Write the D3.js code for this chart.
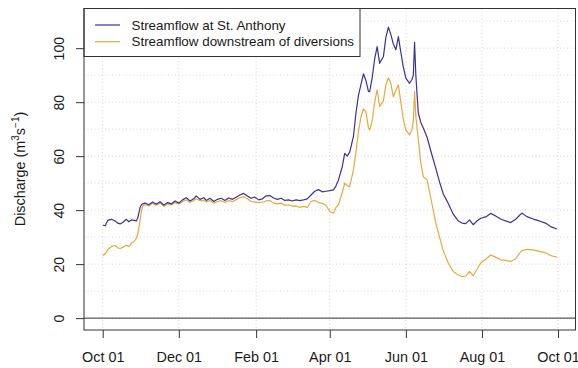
<!DOCTYPE html>
<html><head><meta charset="utf-8">
<script src="https://cdn.jsdelivr.net/npm/d3@7"></script>
<style>body{margin:0;background:#fff}svg{display:block}</style>
</head><body>
<svg id="c" width="578" height="368"></svg>
<script>
const dates = [
"2000-10-01","2000-10-03","2000-10-05","2000-10-08","2000-10-11","2000-10-13","2000-10-15","2000-10-17","2000-10-20","2000-10-22",
"2000-10-24","2000-10-26","2000-10-28","2000-10-29","2000-10-30","2000-10-31","2000-11-01","2000-11-02","2000-11-04","2000-11-07",
"2000-11-10","2000-11-13","2000-11-16","2000-11-19","2000-11-22","2000-11-25","2000-11-28","2000-12-01","2000-12-04","2000-12-07",
"2000-12-10","2000-12-13","2000-12-15","2000-12-18","2000-12-21","2000-12-23","2000-12-26","2000-12-29","2001-01-01","2001-01-04",
"2001-01-07","2001-01-10","2001-01-13","2001-01-16","2001-01-19","2001-01-22","2001-01-25","2001-01-28","2001-01-31","2001-02-03",
"2001-02-06","2001-02-09","2001-02-12","2001-02-15","2001-02-18","2001-02-21","2001-02-24","2001-02-27","2001-03-02","2001-03-05",
"2001-03-08","2001-03-11","2001-03-14","2001-03-17","2001-03-20","2001-03-23","2001-03-26","2001-03-29","2001-04-01","2001-04-04",
"2001-04-06","2001-04-08","2001-04-11","2001-04-13","2001-04-15","2001-04-17","2001-04-20","2001-04-22","2001-04-24","2001-04-26",
"2001-04-28","2001-04-30","2001-05-02","2001-05-03","2001-05-05","2001-05-07","2001-05-09","2001-05-11","2001-05-14","2001-05-16",
"2001-05-18","2001-05-20","2001-05-22","2001-05-24","2001-05-26","2001-05-28","2001-05-30","2001-06-01","2001-06-04","2001-06-06",
"2001-06-07","2001-06-08","2001-06-09","2001-06-11","2001-06-13","2001-06-15","2001-06-18","2001-06-21","2001-06-25","2001-06-28",
"2001-07-01","2001-07-05","2001-07-09","2001-07-13","2001-07-16","2001-07-19","2001-07-22","2001-07-25","2001-07-28","2001-07-31",
"2001-08-04","2001-08-08","2001-08-12","2001-08-16","2001-08-20","2001-08-24","2001-08-28","2001-08-31","2001-09-02","2001-09-06",
"2001-09-11","2001-09-16","2001-09-21","2001-09-25","2001-09-30"];

const stAnthony = [
34.5,34.2,36.2,36.6,36.0,35.2,34.9,35.4,36.6,35.7,
36.4,36.2,36.0,37.0,39.0,41.0,42.0,42.3,42.6,42.0,
43.0,42.2,43.1,41.9,42.8,42.3,43.4,42.6,43.8,44.6,
43.4,44.2,45.3,44.0,44.6,43.6,44.4,43.2,44.0,44.4,
43.6,44.5,44.0,44.8,45.6,46.2,45.2,44.4,44.8,43.8,
44.2,45.3,45.4,44.5,44.0,44.4,43.6,43.8,43.4,43.8,
43.5,43.8,44.2,45.6,47.0,47.6,46.8,47.0,47.2,47.5,
49.0,51.2,56.0,61.0,60.0,61.5,67.3,76.0,82.5,86.5,
90.5,88.0,84.0,83.9,89.0,96.0,100.6,94.4,96.9,104.0,
107.8,105.0,101.5,99.4,104.3,98.5,93.0,88.9,87.0,88.5,
90.0,102.2,90.0,75.9,72.5,70.4,67.0,62.0,55.5,50.5,
46.0,42.5,38.5,36.0,35.2,35.0,36.4,34.6,36.0,37.0,
37.5,38.8,37.8,36.7,36.0,35.4,36.6,38.0,38.9,37.6,
36.7,36.0,35.2,33.9,33.0];

const downstream = [
23.2,23.8,25.3,26.5,26.9,26.0,25.8,26.2,27.0,26.5,
27.8,28.3,29.6,31.0,33.5,36.5,39.5,41.5,42.0,41.6,
42.5,41.8,42.6,41.4,42.2,41.9,42.8,42.3,43.2,43.8,
42.8,43.6,44.2,43.5,43.6,43.0,43.6,42.6,43.2,43.5,
42.8,43.6,43.1,43.9,44.6,45.0,44.2,43.2,43.0,42.8,
43.0,43.4,43.6,42.6,42.3,42.6,41.8,42.0,41.5,41.6,
41.0,41.4,41.0,43.2,43.6,42.8,42.5,41.8,39.5,38.9,
41.0,42.0,46.5,50.0,49.0,48.7,54.9,61.5,69.0,74.5,
77.5,76.5,70.5,69.7,73.0,80.0,84.6,78.4,80.5,86.5,
89.0,87.0,82.0,84.5,86.4,80.0,73.5,69.7,67.9,70.0,
73.0,83.9,75.0,66.0,57.5,52.4,51.2,44.5,35.2,30.0,
25.0,20.4,17.3,16.0,15.4,15.6,17.3,15.7,18.0,20.4,
21.8,23.4,22.6,21.6,21.4,21.0,22.0,24.0,25.0,25.5,
25.3,24.7,24.2,23.2,22.6];

const seriesNames = ["Streamflow at St. Anthony", "Streamflow downstream of diversions"];
const seriesColors = ["#3b3199", "#e8a93c"];
const xTickDates = ["2000-10-01","2000-12-01","2001-02-01","2001-04-01","2001-06-01","2001-08-01","2001-10-01"];
const xTickLabels = ["Oct 01","Dec 01","Feb 01","Apr 01","Jun 01","Aug 01","Oct 01"];
const yTicks = [0,20,40,60,80,100];
const yGrid = [0,10,20,30,40,50,60,70,80,90,100,110];

const parse = d3.timeParse("%Y-%m-%d");
const L = 84, R = 575.5, T = 8.5, B = 330;
const svg = d3.select("#c");
const font = "'Liberation Sans', Arial, Helvetica, sans-serif";

const x = d3.scaleTime()
  .domain([parse("2000-09-16"), parse("2001-10-15")])
  .range([L, R]);
const y = d3.scaleLinear().domain([-4.4, 114.7]).range([B, T]);

// grid
const g = svg.append("g");
g.selectAll("line.gy").data(yGrid).join("line")
  .attr("x1", L).attr("x2", R)
  .attr("y1", d => y(d)).attr("y2", d => y(d))
  .attr("stroke", "#d6d6d6").attr("stroke-width", 1).attr("stroke-dasharray", "1,2.5");
g.selectAll("line.gx").data(xTickDates).join("line")
  .attr("x1", d => x(parse(d))).attr("x2", d => x(parse(d)))
  .attr("y1", T).attr("y2", B)
  .attr("stroke", "#d6d6d6").attr("stroke-width", 1).attr("stroke-dasharray", "1,2.5");

// zero line
svg.append("line").attr("x1", L).attr("x2", R)
  .attr("y1", y(0)).attr("y2", y(0))
  .attr("stroke", "#333").attr("stroke-width", 1);

// lines
const pts = dates.map(parse);
const mk = vals => d3.line().x((d, i) => x(pts[i])).y(d => y(d))(vals);
svg.append("path").attr("d", mk(downstream)).attr("fill", "none")
  .attr("stroke", seriesColors[1]).attr("stroke-width", 1.2).attr("stroke-linejoin", "round");
svg.append("path").attr("d", mk(stAnthony)).attr("fill", "none")
  .attr("stroke", seriesColors[0]).attr("stroke-width", 1.2).attr("stroke-linejoin", "round");

// legend
const lg = svg.append("g");
lg.append("rect").attr("x", L).attr("y", T).attr("width", 276).attr("height", 48)
  .attr("fill", "#fff").attr("stroke", "#333").attr("stroke-width", 1);
seriesNames.forEach((n, i) => {
  const yy = 25 + i * 16.7;
  lg.append("line").attr("x1", 95).attr("x2", 120).attr("y1", yy).attr("y2", yy)
    .attr("stroke", seriesColors[i]).attr("stroke-width", 1.2);
  lg.append("text").attr("x", 131.5).attr("y", yy).attr("dy", "0.35em")
    .attr("font-family", font).attr("font-size", 13.4).attr("fill", "#1a1a1a").text(n);
});

// frame
svg.append("rect").attr("x", L).attr("y", T).attr("width", R - L).attr("height", B - T)
  .attr("fill", "none").attr("stroke", "#333").attr("stroke-width", 1);

// x axis
const xa = svg.append("g").attr("transform", `translate(0,${B})`)
  .call(d3.axisBottom(x).tickValues(xTickDates.map(parse))
    .tickFormat((d, i) => xTickLabels[i]).tickSize(8).tickSizeOuter(0).tickPadding(14));
xa.select(".domain").remove();
xa.selectAll("line").attr("stroke", "#333");
xa.selectAll("text").attr("font-family", font).attr("font-size", 14.4).attr("fill", "#1a1a1a");

// y axis
const ya = svg.append("g").attr("transform", `translate(${L},0)`)
  .call(d3.axisLeft(y).tickValues(yTicks).tickSize(8).tickSizeOuter(0));
ya.select(".domain").remove();
ya.selectAll("line").attr("stroke", "#333");
ya.selectAll("text")
  .attr("font-family", font).attr("font-size", 14.2).attr("fill", "#1a1a1a")
  .attr("text-anchor", "middle").attr("x", null).attr("dy", null)
  .attr("transform", "translate(-20.5,0) rotate(-90)");

// y title
const yt = svg.append("text")
  .attr("transform", "translate(25,169) rotate(-90)")
  .attr("text-anchor", "middle")
  .attr("font-family", font).attr("font-size", 14.4).attr("fill", "#1a1a1a");
yt.append("tspan").text("Discharge (m");
yt.append("tspan").attr("font-size", 10).attr("dy", -6).text("3");
yt.append("tspan").attr("dy", 6).text("s");
yt.append("tspan").attr("font-size", 10).attr("dy", -6).text("\u22121");
yt.append("tspan").attr("dy", 6).text(")");
</script>
</body></html>
